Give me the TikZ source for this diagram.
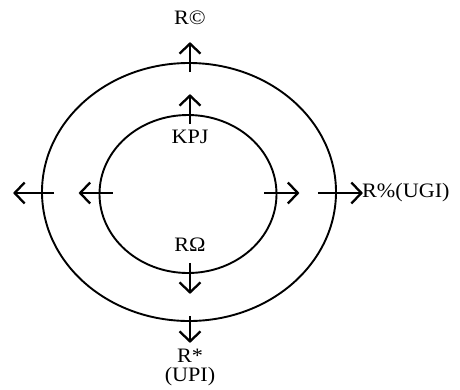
\documentclass[tikz,border=0pt]{standalone}
\usepackage{fontspec}
\setmainfont[FakeStretch=1.08]{Liberation Serif}
\usetikzlibrary{arrows.meta,shapes.geometric}

\tikzset{
  ring/.style={draw, ellipse, line width=1.9pt, inner sep=0pt},
  dir/.style={line width=2.3pt, -{Straight Barb[length=10pt,width=21pt,line width=2.3pt]}},
  tag/.style={font=\fontsize{20.5}{24}\selectfont, inner sep=0pt}
}

\begin{document}
\begin{tikzpicture}[x=1pt,y=-1pt]
        \useasboundingbox (0,0) rectangle (460,389);

        % Rings
        \node[ring, minimum width=294pt, minimum height=258pt] (outer) at (189,192) {};
        \node[ring, minimum width=177pt, minimum height=158pt] (inner) at (188,194) {};

        % Arrows on the outer ring
        \draw[dir] ([shift={(1pt,-10pt)}]outer.north) -- ([shift={(1pt,20pt)}]outer.north);
        \draw[dir] ([shift={(1pt,6pt)}]outer.south) -- ([shift={(1pt,-21pt)}]outer.south);
        \draw[dir] ([shift={(13pt,-1pt)}]outer.west) -- ([shift={(-28pt,-1pt)}]outer.west);
        \draw[dir] ([shift={(-19pt,-1pt)}]outer.east) -- ([shift={(26pt,-1pt)}]outer.east);

        % Arrows on the inner ring
        \draw[dir] ([shift={(2pt,-10pt)}]inner.north) -- ([shift={(2pt,20pt)}]inner.north);
        \draw[dir] ([shift={(2pt,11pt)}]inner.south) -- ([shift={(2pt,-20pt)}]inner.south);
        \draw[dir] ([shift={(14pt,1pt)}]inner.west) -- ([shift={(-20pt,1pt)}]inner.west);
        \draw[dir] ([shift={(-13pt,1pt)}]inner.east) -- ([shift={(22pt,1pt)}]inner.east);

        % Labels
        \node[tag] (rc) at (190,18) {R©};
        \node[tag] (kpj) at (190,137) {KPJ};
        \node[tag] (romega) at (190,245) {RΩ};
        \node[tag] (rstar) at (190,356) {R*};
        \node[tag] (upi) at (190,377) {(UPI)};
        \node[tag, anchor=west] (rugi) at (362,193) {R\%(UGI)};
    \end{tikzpicture}
\end{document}
